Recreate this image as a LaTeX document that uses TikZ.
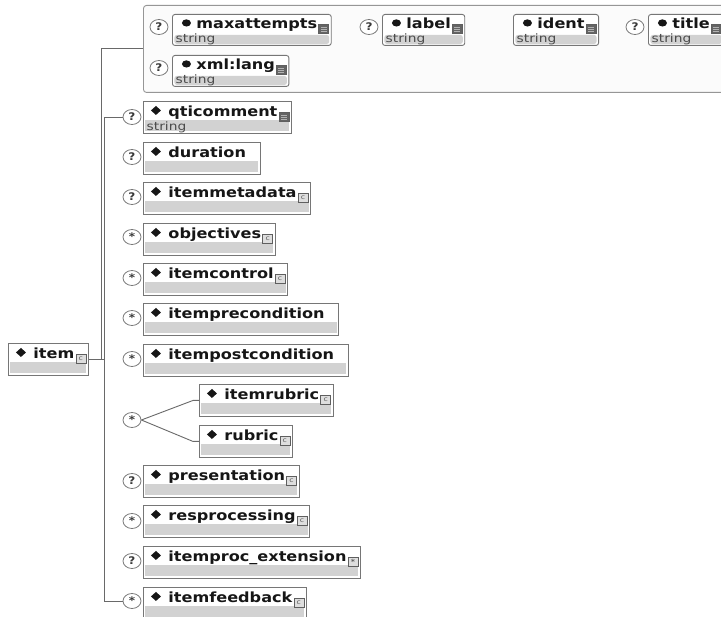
\documentclass[tikz,border=0pt]{standalone}
\usepackage{fontspec}
\usetikzlibrary{shapes.geometric}
\newfontfamily\bfnt{DejaVu Sans Bold}[FakeStretch=1.15]
\newfontfamily\rgfnt{DejaVu Sans}[FakeStretch=1.2]
\definecolor{boxc}{RGB}{118,118,118}
\definecolor{bandc}{RGB}{210,210,210}
\definecolor{connc}{RGB}{105,105,105}
\definecolor{txt}{RGB}{22,22,22}
\definecolor{strc}{RGB}{75,75,75}
\definecolor{attrbg}{RGB}{251,251,251}
\definecolor{attrb}{RGB}{150,150,150}
\definecolor{circc}{RGB}{120,120,120}
\definecolor{icb}{RGB}{95,95,95}
\definecolor{icf}{RGB}{222,222,222}
\definecolor{icdark}{RGB}{100,100,100}
\tikzset{
  base/.style={rectangle, draw=boxc, line width=0.9pt, fill=white, anchor=north west,
    inner xsep=0pt, inner ysep=0pt, text height=15pt, text depth=17pt, text=txt,
    font=\bfnt\fontsize{14}{16}\selectfont},
  elem/.style={base, path picture={
    \fill[bandc] ([shift={(2pt,2pt)}]path picture bounding box.south west) rectangle ([shift={(-2pt,13pt)}]path picture bounding box.south east);
    \fill[txt] ([shift={(7.5pt,-9pt)}]path picture bounding box.north west) -- ++(5pt,4.5pt) -- ++(5pt,-4.5pt) -- ++(-5pt,-4.5pt) -- cycle;}},
  attr/.style={base, rounded corners=2.5pt, text height=14pt, path picture={
    \fill[bandc] ([shift={(2pt,1.5pt)}]path picture bounding box.south west) rectangle ([shift={(-2pt,10.5pt)}]path picture bounding box.south east);
    \fill[txt] ([shift={(14pt,-8.5pt)}]path picture bounding box.north west) ellipse [x radius=4.5pt, y radius=3.6pt];}},
  attrbox/.style={rectangle, rounded corners=3pt, draw=attrb, fill=attrbg, line width=0.9pt,
    anchor=north west, minimum width=620pt, minimum height=87pt, inner sep=0pt},
  strlbl/.style={anchor=base west, inner sep=0pt, font=\rgfnt\fontsize{11.5}{12}\selectfont, text=strc},
  opt/.style={ellipse, draw=circc, fill=white, line width=0.8pt, minimum width=18pt,
    minimum height=15pt, inner sep=0pt, font=\bfnt\fontsize{10.5}{10}\selectfont, text=txt!85},
  cicon/.style={rectangle, draw=icb, fill=icf, line width=0.6pt, minimum width=10pt,
    minimum height=9pt, inner sep=0pt, font=\rgfnt\fontsize{6.5}{6}\selectfont, text=icb},
  sicon/.style={rectangle, draw=icb, fill=icdark, line width=0.6pt, minimum width=10pt,
    minimum height=9pt, inner sep=0pt, path picture={
      \foreach \d in {2.5pt,4.5pt,6.5pt}
        \draw[gray!60, line width=0.4pt] ([shift={(2pt,\d)}]path picture bounding box.south west) -- ([shift={(-2pt,\d)}]path picture bounding box.south east);}},
  xicon/.style={cicon, font=\bfnt\fontsize{7}{6}\selectfont},
  conn/.style={draw=connc, line width=0.9pt},
}
\begin{document}
\begin{tikzpicture}[x=1pt,y=-1pt]
\useasboundingbox (0,0) rectangle (721,617);
\clip (0,0) rectangle (721,617);
\fill[white] (0,0) rectangle (721,617);

% attributes
\node[attrbox] (attrs) at (143,5) {};
\node[attr] (max) at (172,14) {\hspace*{24pt}maxattempts\hspace*{14pt}};
\node[attr] (lab) at (382,14) {\hspace*{24pt}label\hspace*{14pt}};
\node[attr] (ident) at (513,14) {\hspace*{24pt}ident\hspace*{14pt}};
\node[attr] (tit) at (648,14) {\hspace*{24pt}title\hspace*{14pt}};
\node[attr] (lang) at (172,55) {\hspace*{24pt}xml:lang\hspace*{14pt}};
\foreach \a in {max,lab,ident,tit,lang}{
  \node[strlbl] (\a-s) at ([shift={(3.5pt,3pt)}]\a.south west) {string};
  \node[sicon] (\a-i) at ([shift={(-8pt,-15pt)}]\a.north east) {};
}
\foreach \a in {max,lab,tit,lang}
  \node[opt] (c-\a) at ([shift={(-13pt,-13pt)}]\a.north west) {?};

% root
\node[elem] (item) at (8,343) {\hspace*{25pt}item\hspace*{14pt}};

% children
\node[elem] (qti)  at (143,101) {\hspace*{25pt}qticomment\hspace*{14pt}};
\node[elem] (dur)  at (143,142) {\hspace*{25pt}duration\hspace*{14pt}};
\node[elem] (meta) at (143,182) {\hspace*{25pt}itemmetadata\hspace*{14pt}};
\node[elem] (obj)  at (143,223) {\hspace*{25pt}objectives\hspace*{14pt}};
\node[elem] (ctrl) at (143,263) {\hspace*{25pt}itemcontrol\hspace*{14pt}};
\node[elem] (pre)  at (143,303) {\hspace*{25pt}itemprecondition\hspace*{14pt}};
\node[elem] (post) at (143,344) {\hspace*{25pt}itempostcondition\hspace*{14pt}};
\node[elem] (irub) at (199,384) {\hspace*{25pt}itemrubric\hspace*{14pt}};
\node[elem] (rub)  at (199,425) {\hspace*{25pt}rubric\hspace*{14pt}};
\node[elem] (pres) at (143,465) {\hspace*{25pt}presentation\hspace*{14pt}};
\node[elem] (resp) at (143,505) {\hspace*{25pt}resprocessing\hspace*{14pt}};
\node[elem] (ext)  at (143,546) {\hspace*{25pt}itemproc\_extension\hspace*{14pt}};
\node[elem] (fb)   at (143,587) {\hspace*{25pt}itemfeedback\hspace*{14pt}};

\node[strlbl] (qti-s) at ([shift={(3.5pt,3.5pt)}]qti.south west) {string};
\node[sicon] (qti-i) at ([shift={(-8pt,-16pt)}]qti.north east) {};
\foreach \e in {item,meta,obj,ctrl,irub,rub,pres,resp,fb}
  \node[cicon] (\e-i) at ([shift={(-8pt,-16pt)}]\e.north east) {c};
\node[xicon] (ext-i) at ([shift={(-8pt,-16pt)}]ext.north east) {*};

% occurrence circles
\node[opt] (c-qti)  at ([shift={(-11pt,-16pt)}]qti.north west) {?};
\node[opt] (c-dur)  at ([shift={(-11pt,-15pt)}]dur.north west) {?};
\node[opt] (c-meta) at ([shift={(-11pt,-15pt)}]meta.north west) {?};
\node[opt] (c-obj)  at ([shift={(-11pt,-14pt)}]obj.north west) {*};
\node[opt] (c-ctrl) at ([shift={(-11pt,-15pt)}]ctrl.north west) {*};
\node[opt] (c-pre)  at ([shift={(-11pt,-15pt)}]pre.north west) {*};
\node[opt] (c-post) at ([shift={(-11pt,-15pt)}]post.north west) {*};
\node[opt] (c-ch)   at (132,420) {*};
\node[opt] (c-pres) at ([shift={(-11pt,-16pt)}]pres.north west) {?};
\node[opt] (c-resp) at ([shift={(-11pt,-16pt)}]resp.north west) {*};
\node[opt] (c-ext)  at ([shift={(-11pt,-15pt)}]ext.north west) {?};
\node[opt] (c-fb)   at ([shift={(-11pt,-14pt)}]fb.north west) {*};

% connectors
\coordinate (jA) at (101,0);
\coordinate (jB) at (104,0);
\draw[conn] (item.east) -- (item.east -| jB);
\draw[conn] (item.east -| jA) -- (attrs.west -| jA) -- (attrs.west);
\draw[conn] (c-qti.west) -- (c-qti.west -| jB) -- (c-fb.west -| jB) -- (c-fb.west);
\draw[conn] (c-ch.east) -- ([xshift=-6pt]irub.west) -- (irub.west);
\draw[conn] (c-ch.east) -- ([xshift=-6pt]rub.west) -- (rub.west);
\end{tikzpicture}
\end{document}
